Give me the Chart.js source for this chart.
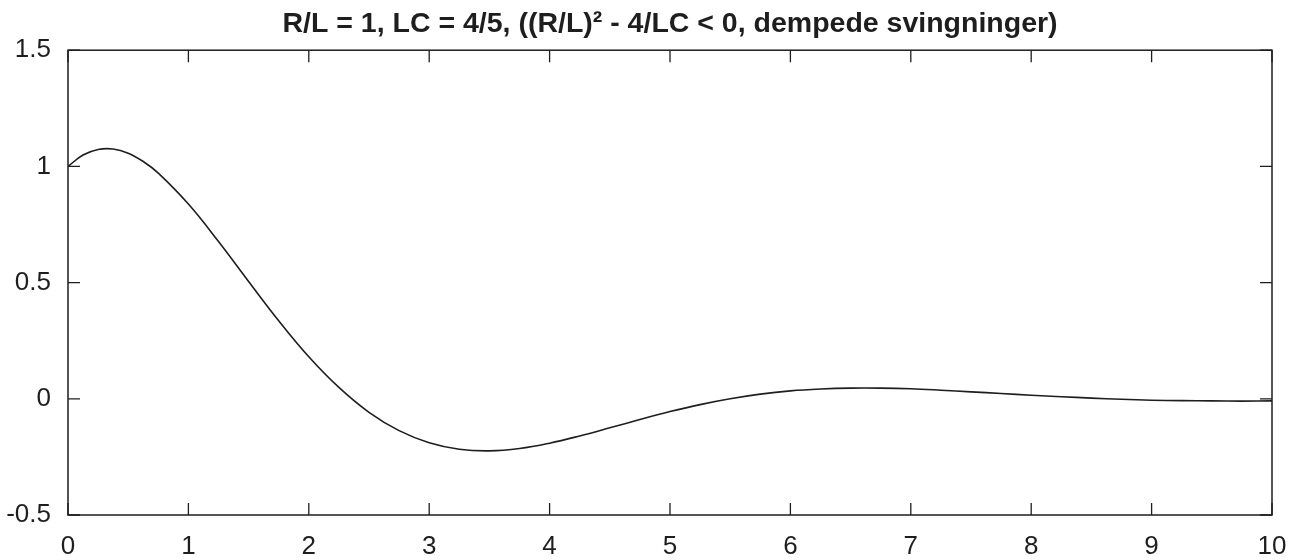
<!DOCTYPE html>
<html>
<head>
<meta charset="utf-8">
<script src="https://cdn.jsdelivr.net/npm/chart.js@4.4.1/dist/chart.umd.min.js"></script>
<style>
  html, body { margin: 0; padding: 0; background: #fff; }
  #wrap { width: 1301px; height: 560px; position: relative; }
</style>
</head>
<body>
<div id="wrap"><canvas id="chart"></canvas></div>
<script>
// Tid (x) og verdier lest av figuren
const tValues = [0, 0.125, 0.25, 0.375, 0.5, 0.625, 0.75, 1, 1.25, 1.5, 1.75, 2, 2.25, 2.5, 2.75, 3, 3.25, 3.5, 3.75,
    4, 4.25, 4.5, 4.75, 5, 5.25, 5.5, 5.75, 6, 6.25, 6.5, 6.75, 7, 7.25, 7.5, 7.75,
    8, 8.25, 8.5, 8.75, 9, 9.25, 9.5, 9.75, 10];
const yValues = [1.000, 1.049, 1.073, 1.075, 1.057, 1.021, 0.971, 0.838, 0.677, 0.505, 0.336, 0.181, 0.049, -0.058, -0.137,
    -0.189, -0.217, -0.224, -0.214, -0.191, -0.160, -0.125, -0.089, -0.055, -0.025, 0.000, 0.020,
    0.034, 0.042, 0.046, 0.046, 0.043, 0.037, 0.030, 0.023, 0.015, 0.009, 0.003, -0.002,
    -0.006, -0.008, -0.009, -0.010, -0.009];

const xTicks = [0, 1, 2, 3, 4, 5, 6, 7, 8, 9, 10];
const yTicks = [-0.5, 0, 0.5, 1, 1.5];
const titleText = 'R/L = 1, LC = 4/5, ((R/L)\u00B2 - 4/LC < 0, dempede svingninger)';

const ink = '#1e1e1e';
const fontFamily = 'Liberation Sans, Arial, Helvetica, sans-serif';

// Ramme og innoverpekende tikkmerker (MATLAB-stil)
const boxTicks = {
    id: 'boxTicks',
    afterDraw(chart) {
        const { ctx, chartArea: a, scales } = chart;
        const len = 12;
        ctx.save();
        ctx.strokeStyle = ink;
        ctx.lineWidth = 1.5;
        ctx.strokeRect(a.left, a.top, a.right - a.left, a.bottom - a.top);
        ctx.lineWidth = 1.3;
        ctx.beginPath();
        xTicks.forEach(v => {
            const px = scales.x.getPixelForValue(v);
            ctx.moveTo(px, a.bottom); ctx.lineTo(px, a.bottom - len);
            ctx.moveTo(px, a.top); ctx.lineTo(px, a.top + len);
        });
        yTicks.forEach(v => {
            const py = scales.y.getPixelForValue(v);
            ctx.moveTo(a.left, py); ctx.lineTo(a.left + len, py);
            ctx.moveTo(a.right, py); ctx.lineTo(a.right - len, py);
        });
        ctx.stroke();
        ctx.restore();
    }
};

const ctx = document.getElementById('chart').getContext('2d');
new Chart(ctx, {
    type: 'line',
    data: {
        datasets: [{
            data: tValues.map((t, i) => ({ x: t, y: yValues[i] })),
            borderColor: ink,
            borderWidth: 1.6,
            pointRadius: 0,
            fill: false,
            tension: 0.4
        }]
    },
    options: {
        responsive: true,
        maintainAspectRatio: false,
        animation: false,
        layout: { padding: { left: 0, right: 29, top: 0, bottom: 0 } },
        plugins: {
            legend: { display: false },
            tooltip: { enabled: false },
            title: {
                display: true,
                fullSize: false,
                text: titleText,
                color: ink,
                font: { family: fontFamily, size: 28.5, weight: 'bold' },
                padding: { top: 7, bottom: 9 }
            }
        },
        scales: {
            x: {
                type: 'linear',
                min: 0,
                max: 10,
                afterFit: s => { s.height = 45; },
                afterBuildTicks: s => { s.ticks = xTicks.map(v => ({ value: v })); },
                grid: { display: false },
                border: { display: false },
                ticks: {
                    color: ink,
                    padding: 8,
                    maxRotation: 0,
                    callback: v => String(v),
                    font: { family: fontFamily, size: 26 }
                }
            },
            y: {
                min: -0.5,
                max: 1.5,
                afterFit: s => { s.width = 68; },
                afterBuildTicks: s => { s.ticks = yTicks.map(v => ({ value: v })); },
                grid: { display: false },
                border: { display: false },
                ticks: {
                    color: ink,
                    padding: 9,
                    callback: v => String(v),
                    font: { family: fontFamily, size: 26 }
                }
            }
        }
    },
    plugins: [boxTicks]
});
</script>
</body>
</html>
